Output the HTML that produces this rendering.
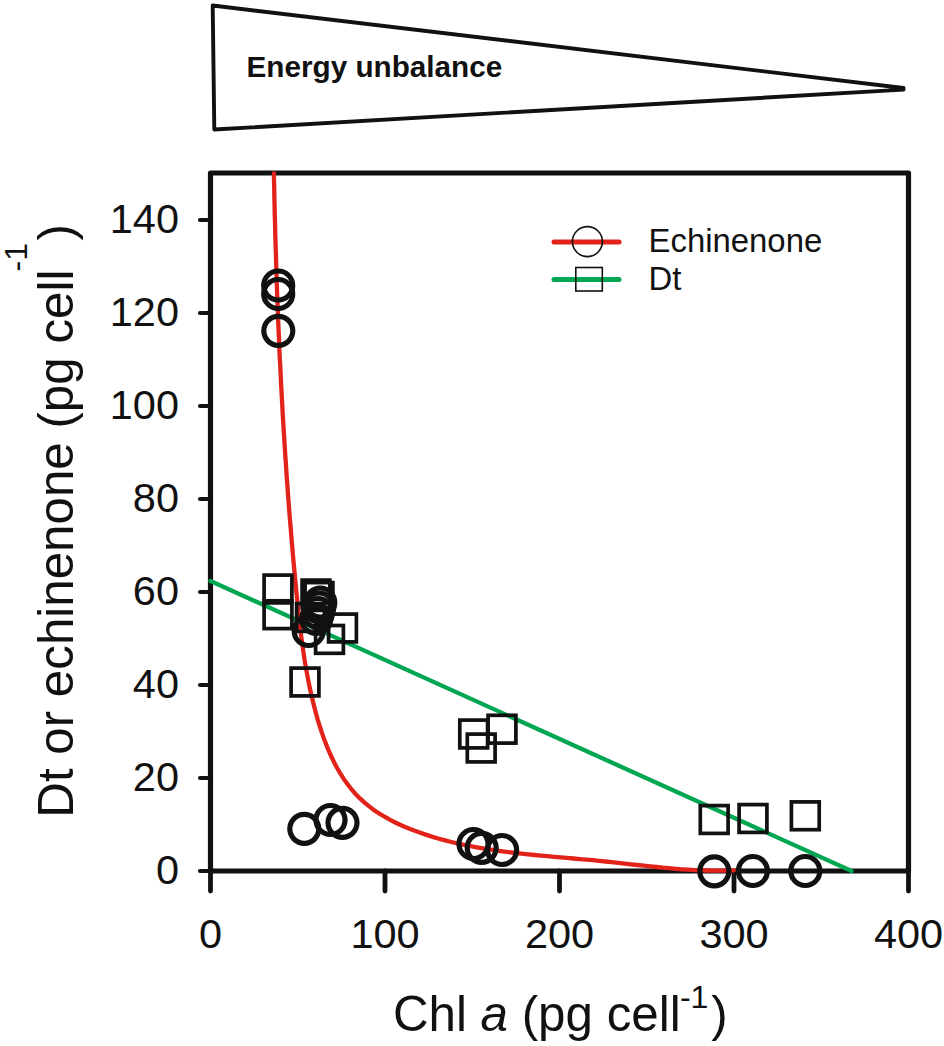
<!DOCTYPE html><html><head><meta charset="utf-8"><style>html,body{margin:0;padding:0;background:#fff;}svg{display:block;}text{font-family:"Liberation Sans",sans-serif;fill:#111;}</style></head><body>
<svg width="944" height="1046" viewBox="0 0 944 1046">
<path d="M212.7,5.5 L903.5,88 L903.5,89.6 L214.3,129.5 Z" fill="none" stroke="#111" stroke-width="3.9" stroke-linejoin="round"/>
<text x="246.5" y="77.2" font-size="29.7" font-weight="bold">Energy unbalance</text>
<rect x="210.5" y="173" width="698.0" height="698.0" fill="none" stroke="#111" stroke-width="5.2" stroke-linejoin="round"/>
<line x1="200" y1="871.0" x2="210.5" y2="871.0" stroke="#111" stroke-width="4.2" stroke-linecap="round"/>
<text x="179" y="883.5" font-size="41.5" text-anchor="end">0</text>
<line x1="200" y1="778.0" x2="210.5" y2="778.0" stroke="#111" stroke-width="4.2" stroke-linecap="round"/>
<text x="179" y="790.5" font-size="41.5" text-anchor="end">20</text>
<line x1="200" y1="685.0" x2="210.5" y2="685.0" stroke="#111" stroke-width="4.2" stroke-linecap="round"/>
<text x="179" y="697.5" font-size="41.5" text-anchor="end">40</text>
<line x1="200" y1="592.0" x2="210.5" y2="592.0" stroke="#111" stroke-width="4.2" stroke-linecap="round"/>
<text x="179" y="604.5" font-size="41.5" text-anchor="end">60</text>
<line x1="200" y1="499.0" x2="210.5" y2="499.0" stroke="#111" stroke-width="4.2" stroke-linecap="round"/>
<text x="179" y="511.5" font-size="41.5" text-anchor="end">80</text>
<line x1="200" y1="406.0" x2="210.5" y2="406.0" stroke="#111" stroke-width="4.2" stroke-linecap="round"/>
<text x="179" y="418.5" font-size="41.5" text-anchor="end">100</text>
<line x1="200" y1="313.0" x2="210.5" y2="313.0" stroke="#111" stroke-width="4.2" stroke-linecap="round"/>
<text x="179" y="325.5" font-size="41.5" text-anchor="end">120</text>
<line x1="200" y1="220.0" x2="210.5" y2="220.0" stroke="#111" stroke-width="4.2" stroke-linecap="round"/>
<text x="179" y="232.5" font-size="41.5" text-anchor="end">140</text>
<line x1="210.5" y1="871.0" x2="210.5" y2="891" stroke="#111" stroke-width="4.8" stroke-linecap="round"/>
<text x="210.5" y="948" font-size="41.5" text-anchor="middle">0</text>
<line x1="385.0" y1="871.0" x2="385.0" y2="891" stroke="#111" stroke-width="4.8" stroke-linecap="round"/>
<text x="385.0" y="948" font-size="41.5" text-anchor="middle">100</text>
<line x1="559.5" y1="871.0" x2="559.5" y2="891" stroke="#111" stroke-width="4.8" stroke-linecap="round"/>
<text x="559.5" y="948" font-size="41.5" text-anchor="middle">200</text>
<line x1="734.0" y1="871.0" x2="734.0" y2="891" stroke="#111" stroke-width="4.8" stroke-linecap="round"/>
<text x="734.0" y="948" font-size="41.5" text-anchor="middle">300</text>
<line x1="908.5" y1="871.0" x2="908.5" y2="891" stroke="#111" stroke-width="4.8" stroke-linecap="round"/>
<text x="908.5" y="948" font-size="41.5" text-anchor="middle">400</text>
<path d="M273.9,173.5 L274.0,180.0 L274.2,186.4 L274.3,192.8 L274.4,199.3 L274.6,205.7 L274.7,212.2 L274.9,218.6 L275.1,225.1 L275.2,231.5 L275.4,238.0 L275.6,244.4 L275.8,250.9 L276.0,257.3 L276.2,263.8 L276.4,270.2 L276.6,276.7 L276.8,283.1 L277.0,289.6 L277.2,296.0 L277.5,302.5 L277.7,308.9 L278.0,315.4 L278.2,321.8 L278.5,328.3 L278.8,334.7 L279.1,341.2 L279.3,347.6 L279.6,354.1 L279.9,360.5 L280.3,367.0 L280.6,373.4 L280.9,379.9 L281.2,386.3 L281.6,392.8 L281.9,399.2 L282.3,405.7 L282.6,412.1 L283.0,418.6 L283.4,425.0 L283.8,431.5 L284.2,437.9 L284.6,444.4 L285.0,450.8 L285.4,457.3 L285.9,463.7 L286.3,470.1 L286.7,476.6 L287.2,483.0 L287.7,489.5 L288.1,495.9 L288.6,502.3 L289.1,508.8 L289.6,515.2 L290.1,521.6 L290.7,528.0 L291.2,534.5 L291.7,540.9 L292.3,547.3 L292.8,553.7 L293.4,560.2 L294.0,566.6 L294.6,573.0 L295.2,579.4 L295.8,585.8 L296.4,592.2 L297.1,598.6 L297.7,605.0 L298.4,611.4 L299.1,617.8 L299.8,624.2 L300.5,630.6 L301.3,637.0 L302.2,643.4 L303.1,649.8 L304.0,656.1 L305.0,662.5 L306.1,668.9 L307.3,675.2 L308.5,681.6 L309.8,687.9 L311.2,694.3 L312.7,700.6 L314.3,706.9 L315.9,713.2 L317.7,719.6 L319.6,725.8 L321.7,732.1 L323.8,738.3 L326.2,744.5 L328.6,750.5 L331.3,756.5 L334.1,762.3 L337.1,768.0 L340.3,773.5 L343.7,778.9 L347.4,784.0 L351.2,789.0 L355.3,793.7 L359.7,798.2 L364.3,802.4 L369.2,806.4 L374.2,810.2 L379.5,813.7 L385.0,817.0 L390.6,820.1 L396.3,823.0 L402.2,825.7 L408.2,828.2 L414.2,830.6 L420.4,832.8 L426.5,834.9 L432.7,836.9 L438.9,838.7 L445.1,840.4 L451.4,842.0 L457.7,843.5 L464.0,844.9 L470.4,846.1 L476.7,847.3 L483.1,848.4 L489.5,849.5 L495.9,850.4 L502.3,851.3 L508.8,852.2 L515.2,853.0 L521.6,853.7 L528.1,854.4 L534.6,855.0 L541.0,855.6 L547.5,856.2 L554.0,856.8 L560.4,857.4 L566.9,857.9 L573.4,858.5 L579.8,859.1 L586.3,859.6 L592.7,860.2 L599.1,860.9 L605.5,861.5 L611.9,862.2 L618.3,862.9 L624.7,863.6 L631.0,864.3 L637.4,865.0 L643.8,865.7 L650.1,866.4 L656.5,867.0 L662.9,867.7 L669.3,868.2 L675.7,868.8 L682.1,869.3 L688.5,869.7 L694.9,870.1 L701.4,870.3 L707.8,870.5 L714.3,870.6 L720.9,870.6 L727.4,870.5 L734.0,870.3" fill="none" stroke="#e2231a" stroke-width="4.3" stroke-linecap="round"/>
<line x1="210.5" y1="581" x2="851.5" y2="871" stroke="#00a651" stroke-width="4.3" stroke-linecap="round"/>
<rect x="264.1" y="575.1" width="27.8" height="27.8" fill="none" stroke="#111" stroke-width="3.7"/>
<rect x="264.1" y="600.8" width="27.8" height="27.8" fill="none" stroke="#111" stroke-width="3.7"/>
<rect x="302.1" y="580.1" width="27.8" height="27.8" fill="none" stroke="#111" stroke-width="3.7"/>
<rect x="305.1" y="582.6" width="27.8" height="27.8" fill="none" stroke="#111" stroke-width="3.7"/>
<rect x="296.6" y="603.6" width="27.8" height="27.8" fill="none" stroke="#111" stroke-width="3.7"/>
<rect x="328.6" y="614.1" width="27.8" height="27.8" fill="none" stroke="#111" stroke-width="3.7"/>
<rect x="315.6" y="625.5" width="27.8" height="27.8" fill="none" stroke="#111" stroke-width="3.7"/>
<rect x="291.1" y="668.1" width="27.8" height="27.8" fill="none" stroke="#111" stroke-width="3.7"/>
<rect x="459.8" y="720.1" width="27.8" height="27.8" fill="none" stroke="#111" stroke-width="3.7"/>
<rect x="467.3" y="734.1" width="27.8" height="27.8" fill="none" stroke="#111" stroke-width="3.7"/>
<rect x="488.1" y="715.3" width="27.8" height="27.8" fill="none" stroke="#111" stroke-width="3.7"/>
<rect x="700.3" y="805.6" width="27.8" height="27.8" fill="none" stroke="#111" stroke-width="3.7"/>
<rect x="739.1" y="804.6" width="27.8" height="27.8" fill="none" stroke="#111" stroke-width="3.7"/>
<rect x="791.4" y="801.9" width="27.8" height="27.8" fill="none" stroke="#111" stroke-width="3.7"/>
<circle cx="278.2" cy="285.5" r="14.5" fill="none" stroke="#111" stroke-width="5.2"/>
<circle cx="278.2" cy="294" r="14.5" fill="none" stroke="#111" stroke-width="5.2"/>
<circle cx="278.3" cy="330.8" r="14.5" fill="none" stroke="#111" stroke-width="5.2"/>
<circle cx="320.3" cy="602.5" r="14.5" fill="none" stroke="#111" stroke-width="5.2"/>
<circle cx="319.2" cy="607.5" r="14.5" fill="none" stroke="#111" stroke-width="5.2"/>
<circle cx="318" cy="613" r="14.5" fill="none" stroke="#111" stroke-width="5.2"/>
<circle cx="316.2" cy="619" r="14.5" fill="none" stroke="#111" stroke-width="5.2"/>
<circle cx="308.7" cy="631" r="14.5" fill="none" stroke="#111" stroke-width="5.2"/>
<circle cx="304.3" cy="828.8" r="14.5" fill="none" stroke="#111" stroke-width="5.2"/>
<circle cx="330.5" cy="820" r="14.5" fill="none" stroke="#111" stroke-width="5.2"/>
<circle cx="342.5" cy="822.8" r="14.5" fill="none" stroke="#111" stroke-width="5.2"/>
<circle cx="473.5" cy="844" r="14.5" fill="none" stroke="#111" stroke-width="5.2"/>
<circle cx="481.7" cy="847.8" r="14.5" fill="none" stroke="#111" stroke-width="5.2"/>
<circle cx="502.1" cy="850" r="14.5" fill="none" stroke="#111" stroke-width="5.2"/>
<circle cx="714.3" cy="871.3" r="14.5" fill="none" stroke="#111" stroke-width="5.2"/>
<circle cx="752.9" cy="871" r="14.5" fill="none" stroke="#111" stroke-width="5.2"/>
<circle cx="805.3" cy="871" r="14.5" fill="none" stroke="#111" stroke-width="5.2"/>
<line x1="554" y1="242" x2="619" y2="242" stroke="#e2231a" stroke-width="5" stroke-linecap="round"/>
<circle cx="587.4" cy="241.6" r="15" fill="none" stroke="#111" stroke-width="1.6"/>
<line x1="554" y1="279.5" x2="619" y2="279.5" stroke="#00a651" stroke-width="5" stroke-linecap="round"/>
<rect x="575.8" y="267.5" width="26.5" height="23.5" fill="none" stroke="#111" stroke-width="1.6"/>
<text x="648.5" y="252.4" font-size="32.9">Echinenone</text>
<text x="648.5" y="290.2" font-size="32.9">Dt</text>
<text x="392.9" y="1031" font-size="49.3">Chl <tspan font-style="italic">a</tspan> (pg cell<tspan x="679.9" y="1008.2" font-size="32">-1</tspan><tspan x="711.2" y="1031">)</tspan></text>
<text transform="translate(73.4,817.7) rotate(-90)" x="0" y="0" font-size="49.3">Dt or echinenone (pg cell<tspan x="546.2" y="-46" font-size="32">-1</tspan><tspan x="577.1" y="0">)</tspan></text>
</svg></body></html>
